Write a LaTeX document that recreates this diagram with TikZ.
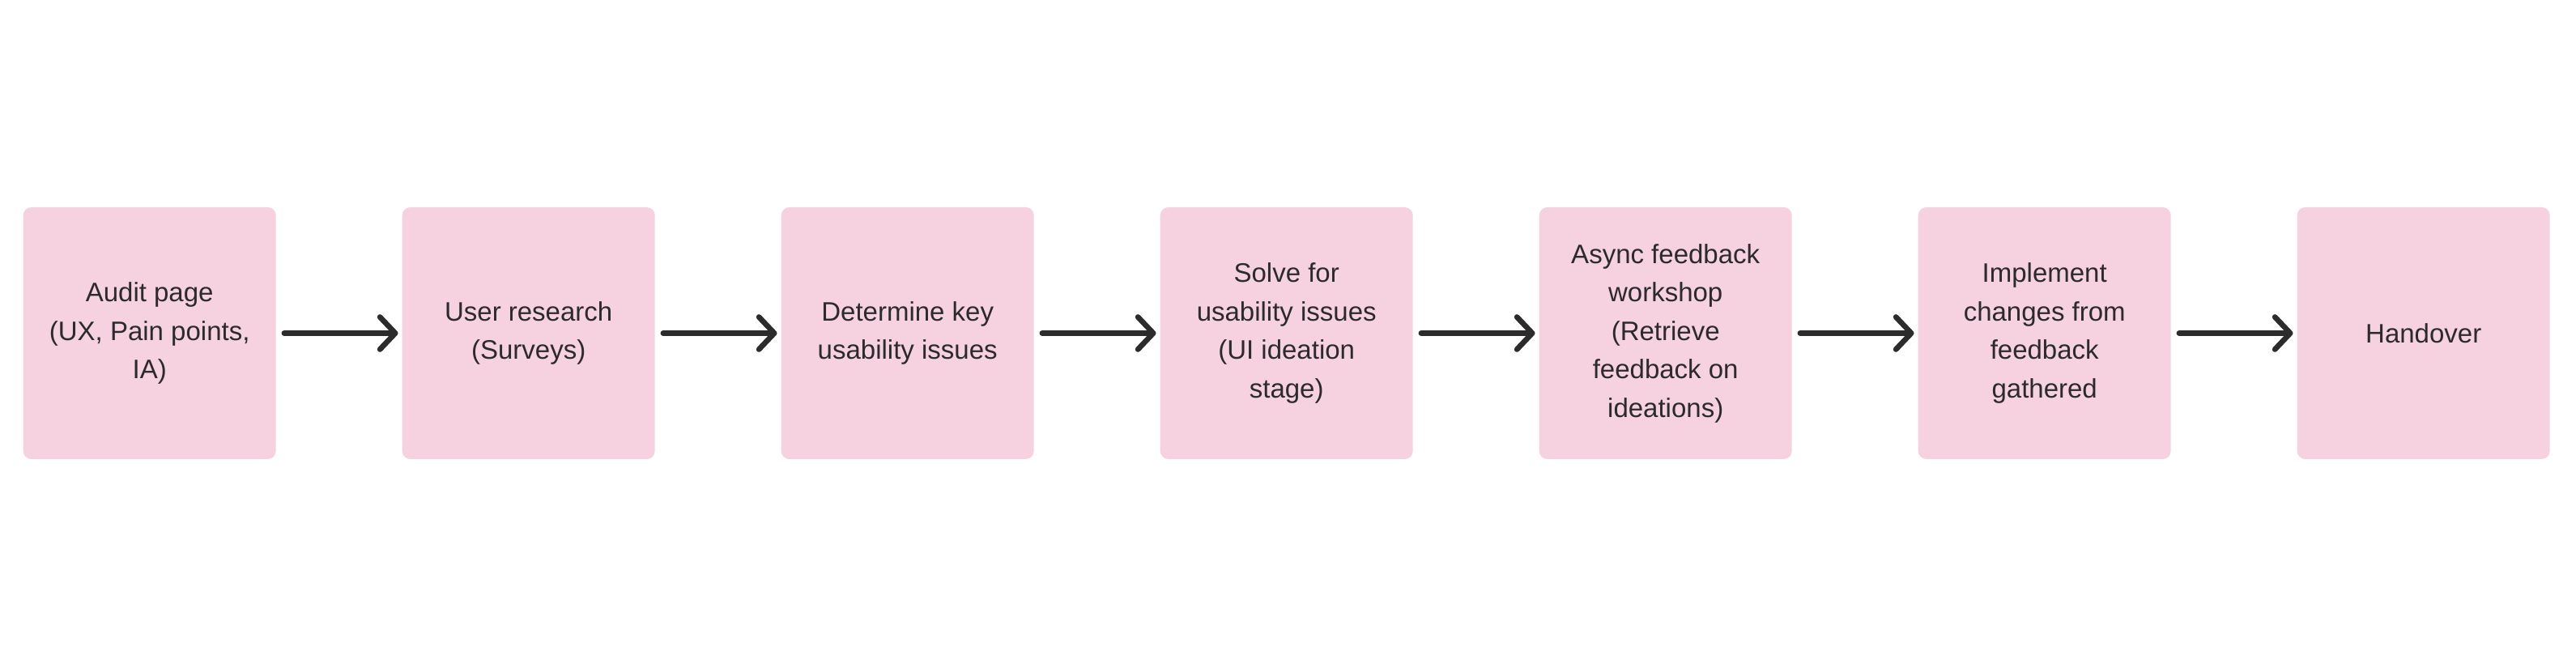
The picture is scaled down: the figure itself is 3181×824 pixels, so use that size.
\documentclass[tikz,border=0pt]{standalone}
\usepackage{fontspec}
\setmainfont{Liberation Sans}
\usetikzlibrary{arrows.meta}
\definecolor{boxpink}{HTML}{F6D2E1}
\definecolor{inkdark}{HTML}{2B2A2D}
\definecolor{arrowdark}{HTML}{2C2C2C}
\tikzset{
  stepbox/.style={fill=boxpink, draw=none, rounded corners=10bp,
    minimum width=312bp, minimum height=311bp, inner sep=0pt,
    align=center, text=inkdark,
    font=\fontsize{33bp}{47.5bp}\selectfont},
  flowarrow/.style={draw=arrowdark, line width=6.7bp, line cap=round,
    -{Straight Barb[length=19bp,width=40bp,round]},
    shorten <=10bp, shorten >=5bp}
}
\begin{document}
\begin{tikzpicture}[x=1bp,y=1bp]
\useasboundingbox (0,0) rectangle (3181,824);
\node[stepbox] (s1) at (184.7,412.5) {Audit page\\(UX, Pain points,\\IA)};
\node[stepbox] (s2) at (652.7,412.5) {User research\\(Surveys)};
\node[stepbox] (s3) at (1120.7,412.5) {Determine key\\usability issues};
\node[stepbox] (s4) at (1588.7,412.5) {Solve for\\usability issues\\(UI ideation\\stage)};
\node[stepbox] (s5) at (2056.7,412.5) {Async feedback\\workshop\\(Retrieve\\feedback on\\ideations)};
\node[stepbox] (s6) at (2524.7,412.5) {Implement\\changes from\\feedback\\gathered};
\node[stepbox] (s7) at (2992.7,412.5) {Handover};
\draw[flowarrow] (s1.east) -- (s2.west);
\draw[flowarrow] (s2.east) -- (s3.west);
\draw[flowarrow] (s3.east) -- (s4.west);
\draw[flowarrow] (s4.east) -- (s5.west);
\draw[flowarrow] (s5.east) -- (s6.west);
\draw[flowarrow] (s6.east) -- (s7.west);
\end{tikzpicture}
\end{document}
